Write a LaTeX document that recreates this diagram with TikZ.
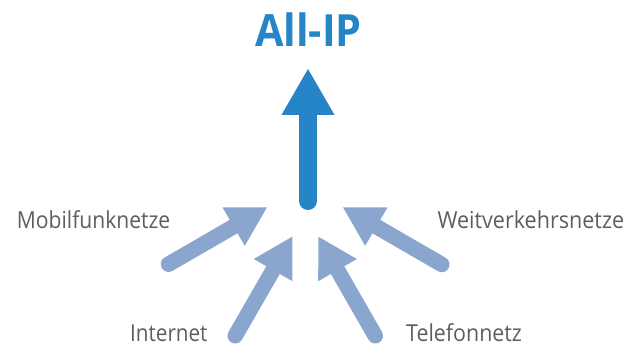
\documentclass[tikz,border=0pt]{standalone}
\usepackage{fontspec}
\usepackage{graphicx}
\setmainfont{Open Sans}
\usetikzlibrary{calc}
\definecolor{allipblue}{HTML}{2585C7}
\definecolor{feedblue}{HTML}{8BA6CE}
\definecolor{labelgray}{HTML}{5E5E5E}
\tikzset{
  lbl/.style={inner sep=0pt, anchor=base west, text=labelgray, font=\fontsize{23.4}{28}\selectfont},
  title/.style={inner sep=0pt, anchor=base west, text=allipblue, font=\fontsize{44.4}{52}\selectfont\bfseries},
  mainarrow/.style={allipblue},
  feedarrow/.style={feedblue}
}
% #1 style, #2 tail coordinate, #3 tip coordinate, #4 shaft width, #5 side of the (equilateral) head
\newcommand{\fatarrow}[5]{%
  \coordinate (#3-b) at ($(#3)!{0.866*#5}!(#2)$);
  \fill[#1] (#3) -- ($(#3-b)!{0.5*#5}!90:(#3)$) -- ($(#3-b)!{0.5*#5}!-90:(#3)$) -- cycle;
  \draw[#1, line width=#4, line cap=round] (#2) -- ($(#3-b)!1pt!(#3)$);
}
\begin{document}
\begin{tikzpicture}[x=1pt, y=-1pt]
  \fill[white] (0,0) rectangle (640,345);
  \useasboundingbox (0,0) rectangle (640,345);

  % coordinates of tails and tips
  \coordinate (bigtail) at (308,201);
  \coordinate (bigtip) at (308,69);
  \coordinate (mobtail) at (168.5,264.2);
  \coordinate (mobtip) at (267,207.3);
  \coordinate (weittail) at (441.8,264.5);
  \coordinate (weittip) at (343,207.3);
  \coordinate (inttail) at (235.2,335.8);
  \coordinate (inttip) at (292.3,236.7);
  \coordinate (teltail) at (375.3,335.8);
  \coordinate (teltip) at (318.3,236.7);

  \fatarrow{mainarrow}{bigtail}{bigtip}{18pt}{53pt}
  \fatarrow{feedarrow}{mobtail}{mobtip}{15.5pt}{44.5pt}
  \fatarrow{feedarrow}{weittail}{weittip}{15.5pt}{44.5pt}
  \fatarrow{feedarrow}{inttail}{inttip}{15.5pt}{44.5pt}
  \fatarrow{feedarrow}{teltail}{teltip}{15.5pt}{44.5pt}

  \node[title] (allip) at (255,46.7) {\resizebox{106.7pt}{\height}{All-IP}};
  \node[lbl] (mob) at (16.7,228.4) {\resizebox{153.3pt}{\height}{Mobilfunknetze}};
  \node[lbl] (weit) at (437.3,228.6) {\resizebox{186.7pt}{\height}{Weitverkehrsnetze}};
  \node[lbl] (int) at (130,341.3) {\resizebox{77.3pt}{\height}{Internet}};
  \node[lbl] (tel) at (406,341.3) {\resizebox{115.7pt}{\height}{Telefonnetz}};
\end{tikzpicture}
\end{document}
